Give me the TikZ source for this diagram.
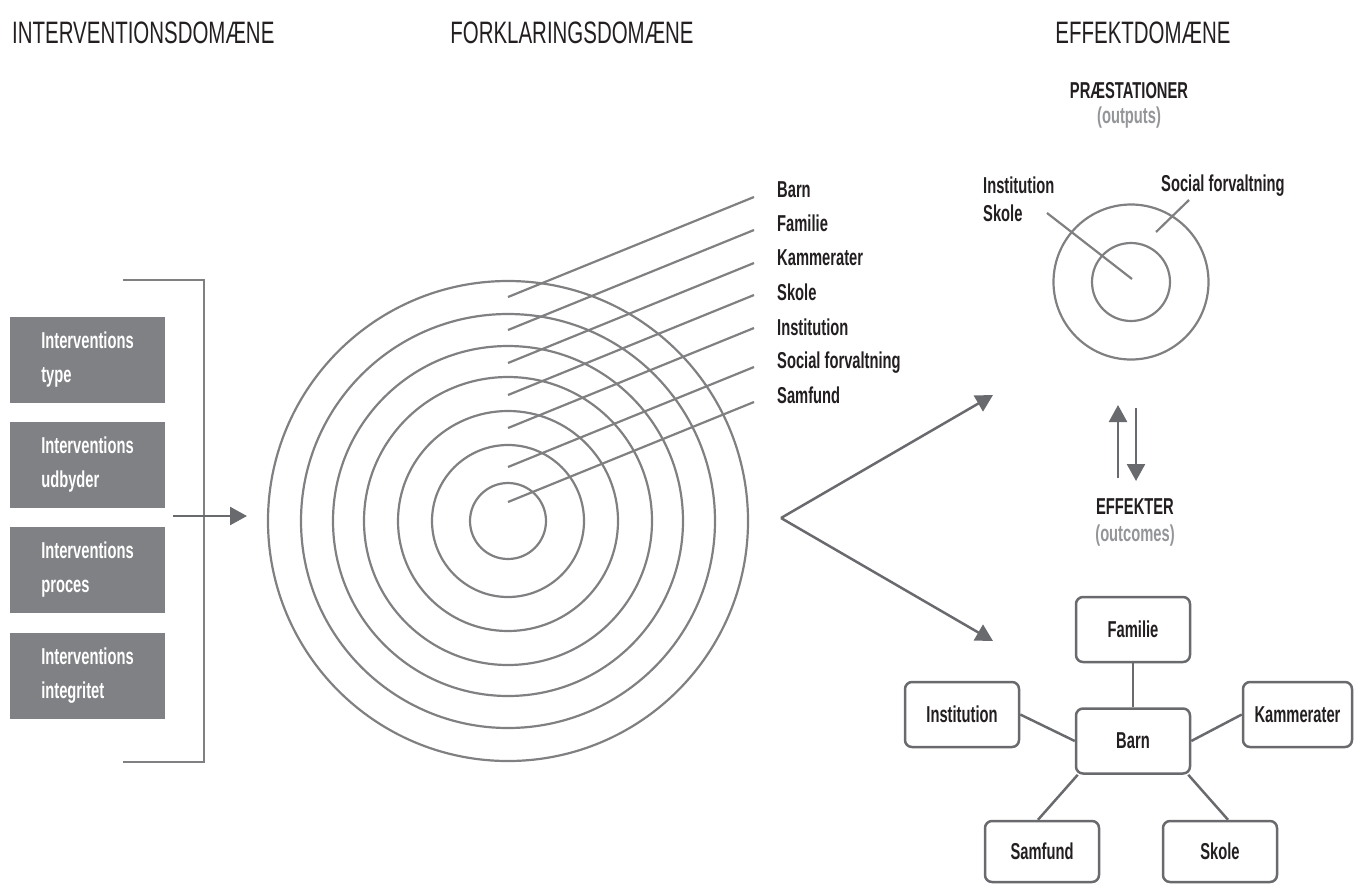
\documentclass[tikz,border=0pt]{standalone}
\usepackage{fontspec}
\setmainfont[FakeStretch=0.64]{Liberation Sans}
\newfontfamily\headfont[FakeStretch=0.66]{Liberation Sans}
\usetikzlibrary{arrows.meta}
\definecolor{linegray}{RGB}{128,128,131}
\definecolor{boxgray}{RGB}{128,129,132}
\definecolor{arrgray}{RGB}{105,106,109}
\definecolor{txt}{RGB}{35,31,32}
\definecolor{paren}{RGB}{147,149,152}
\begin{document}
\begin{tikzpicture}[x=1pt,y=-1pt,
  head/.style={font=\headfont\fontsize{31}{32}\selectfont, inner sep=0pt, text=txt},
  lab/.style={font=\fontsize{23}{34}\selectfont\bfseries, inner sep=0pt, text=txt},
  sub/.style={font=\fontsize{23}{34}\selectfont\bfseries, inner sep=0pt, text=paren},
  ring/.style={draw=linegray, line width=2.2pt},
  lead/.style={draw=linegray, line width=2.2pt},
  ibox/.style={fill=boxgray, text=white, minimum width=155pt, minimum height=86pt,
    inner sep=0pt, align=left, font=\fontsize{23}{34}\selectfont\bfseries},
  nbox/.style={draw=arrgray, line width=2.5pt, rounded corners=7pt, minimum width=114pt,
    minimum height=65pt, inner sep=0pt, text=txt, font=\fontsize{23}{34}\selectfont\bfseries},
  arr/.style={draw=arrgray, line width=2.5pt, -{Triangle[length=17pt,width=18pt]}},
  link/.style={draw=arrgray, line width=2.5pt}]
\useasboundingbox (0,0) rectangle (1354,884);

% headers
\node[head, anchor=base west] (h1) at (12,43) {INTERVENTIONSDOMÆNE};
\node[head, anchor=base] (h2) at (572,43) {FORKLARINGSDOMÆNE};
\node[head, anchor=base] (h3) at (1143,43) {EFFEKTDOMÆNE};

% intervention boxes
\node[ibox] (t1) at (87.5,360) {Interventions\\type};
\node[ibox] (t2) at (87.5,465) {Interventions\\udbyder};
\node[ibox] (t3) at (87.5,570) {Interventions\\proces};
\node[ibox] (t4) at (87.5,676) {Interventions\\integritet};

% bracket
\coordinate (bra) at (123,280);
\coordinate (brb) at (204,280);
\coordinate (brc) at (204,762);
\coordinate (brd) at (123,762);
\draw[ring] (bra) -- (brb) -- (brc) -- (brd);

% left arrow
\coordinate (la1) at (173,516);
\coordinate (la2) at (247,516);
\draw[arr] (la1) -- (la2);

% rings
\coordinate (bc) at (508,521);
\foreach \r in {38,76,110,144,175,207,240}
  \draw[ring] (bc) circle[radius=\r];

% ring labels and leaders
\node[lab, anchor=base west] (lb1) at (777,197) {Barn};
\node[lab, anchor=base west] (lb2) at (777,231) {Familie};
\node[lab, anchor=base west] (lb3) at (777,265) {Kammerater};
\node[lab, anchor=base west] (lb4) at (777,300) {Skole};
\node[lab, anchor=base west] (lb5) at (777,335) {Institution};
\node[lab, anchor=base west] (lb6) at (777,368) {Social forvaltning};
\node[lab, anchor=base west] (lb7) at (777,403) {Samfund};
\foreach \i/\s/\e in {1/297/197, 2/330/230, 3/363/263, 4/395/295, 5/428/328, 6/467/367, 7/502/402}{
  \coordinate (ls\i) at (508,\s);
  \coordinate (le\i) at (754,\e);
  \draw[lead] (ls\i) -- (le\i);
}

% V arrows
\coordinate (v) at (781,518);
\coordinate (vu) at (993,395);
\coordinate (vd) at (993,641);
\draw[arr] (v) -- (vu);
\draw[arr] (v) -- (vd);

% outputs
\node[lab, anchor=base] (pr) at (1129,98) {PRÆSTATIONER};
\node[sub, anchor=base] (po) at (1129,123) {(outputs)};
\coordinate (sc) at (1131,282);
\draw[ring] (sc) circle[radius=77.5];
\draw[ring] (sc) circle[radius=39];
\node[lab, anchor=base west] (si) at (983,193) {Institution};
\node[lab, anchor=base west] (ss) at (983,221) {Skole};
\node[lab, anchor=base west] (sf) at (1161,191) {Social forvaltning};
\coordinate (is1) at (1047,213);
\coordinate (is2) at (1132,279);
\coordinate (sf1) at (1189,200);
\coordinate (sf2) at (1156,232);
\draw[lead] (is1) -- (is2);
\draw[lead] (sf1) -- (sf2);

% double arrows
\coordinate (ua1) at (1118,478);
\coordinate (ua2) at (1118,405);
\coordinate (da1) at (1136,408);
\coordinate (da2) at (1136,481);
\draw[arr] (ua1) -- (ua2);
\draw[arr] (da1) -- (da2);

% outcomes
\node[lab, anchor=base] (ef) at (1135,514) {EFFEKTER};
\node[sub, anchor=base] (eo) at (1135,541) {(outcomes)};

% network
\node[nbox] (fam) at (1133,629.5) {Familie};
\node[nbox] (barn) at (1133,741) {Barn};
\node[nbox] (inst) at (962,714.5) {Institution};
\node[nbox, minimum width=109pt] (kam) at (1297.5,714.5) {Kammerater};
\node[nbox, minimum height=61pt] (sam) at (1042,851.5) {Samfund};
\node[nbox, minimum height=61pt] (sko) at (1220,851.5) {Skole};
\draw[link] (fam.south) -- (barn.north);
\draw[link] (inst.east) -- (barn.west);
\draw[link] (kam.west) -- (barn.east);
\draw[link] ([xshift=-4pt]sam.north) -- ([xshift=3pt]barn.south west);
\draw[link] ([xshift=8pt]sko.north) -- ([xshift=-3pt]barn.south east);
\end{tikzpicture}
\end{document}
